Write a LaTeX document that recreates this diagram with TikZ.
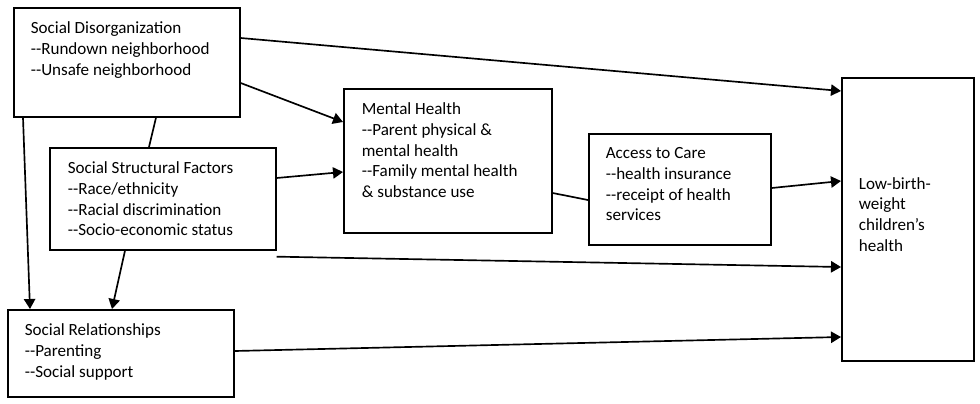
\documentclass[tikz,border=0pt]{standalone}
\usepackage{fontspec}
\setmainfont{Carlito}
\usepackage{tikz}
\usetikzlibrary{arrows.meta, positioning}

\newcommand{\dd}{-{}-}

\begin{document}
\begin{tikzpicture}[->, >={Triangle[length=7.5pt, width=8.5pt]}, line width=1.25pt, x=0.75pt, y=-0.75pt,
    factor/.style={draw, -, anchor=north west, inner sep=0pt},
    txt/.style={align=left, inner sep=0pt, font=\fontsize{12.8pt}{15.5pt}\selectfont}]
    \useasboundingbox (0,0) rectangle (980,403);
    \node[factor, minimum width=169.5pt, minimum height=81.75pt] (sd) at (13,7) {};
    \node[factor, minimum width=169.5pt, minimum height=76.5pt] (ssf) at (49,147) {};
    \node[factor, minimum width=169.5pt, minimum height=65.25pt] (sr) at (7,309) {};
    \node[factor, minimum width=156pt, minimum height=108pt] (mh) at (343,88) {};
    \node[factor, minimum width=136.5pt, minimum height=83.25pt] (atc) at (588,133) {};
    \node[factor, minimum width=99pt, minimum height=212.25pt] (lbw) at (841,77) {};
    \node[txt, below right=10.5pt and 12.75pt of sd.north west] (sdtext)
        {Social Disorganization\\\dd Rundown neighborhood\\\dd Unsafe neighborhood};
    \node[txt, below right=10.5pt and 13.5pt of ssf.north west] (ssftext)
        {Social Structural Factors\\\dd Race/ethnicity\\\dd Racial discrimination\\\dd Socio-economic status};
    \node[txt, below right=10.5pt and 12.75pt of sr.north west] (srtext)
        {Social Relationships\\\dd Parenting\\\dd Social support};
    \node[txt, below right=10.5pt and 13.5pt of mh.north west] (mhtext)
        {Mental Health\\\dd Parent physical \&\\mental health\\\dd Family mental health\\\& substance use};
    \node[txt, below right=10.5pt and 12.75pt of atc.north west] (atctext)
        {Access to Care\\\dd health insurance\\\dd receipt of health\\services};
    \node[txt, below right=74.5pt and 12.75pt of lbw.north west] (lbwtext)
        {Low-birth-\\weight\\children’s\\health};
    \coordinate (ssfout) at ([yshift=-4.5pt]ssf.south east);
    \draw ([yshift=-23.25pt]sd.north east) -- ([yshift=-10.5pt]lbw.north west);
    \draw ([yshift=-57pt]sd.north east) -- ([yshift=-25.5pt]mh.north west);
    \draw[-] ([xshift=107.25pt]sd.south west) -- ([xshift=75pt]ssf.north west);
    \draw ([xshift=7.5pt]sd.south west) -- ([xshift=17.25pt]sr.north west);
    \draw ([yshift=-23.25pt]ssf.north east) -- ([yshift=-63pt]mh.north west);
    \draw ([xshift=57pt]ssf.south west) -- ([xshift=78.75pt]sr.north west);
    \draw (ssfout) -- ([yshift=-142.5pt]lbw.north west);
    \draw[-] ([yshift=-78.75pt]mh.north east) -- ([yshift=-50.25pt]atc.north west);
    \draw ([yshift=-41.25pt]atc.north east) -- ([yshift=-78pt]lbw.north west);
    \draw ([yshift=-31.5pt]sr.north east) -- ([yshift=-195pt]lbw.north west);
\end{tikzpicture}
\end{document}
